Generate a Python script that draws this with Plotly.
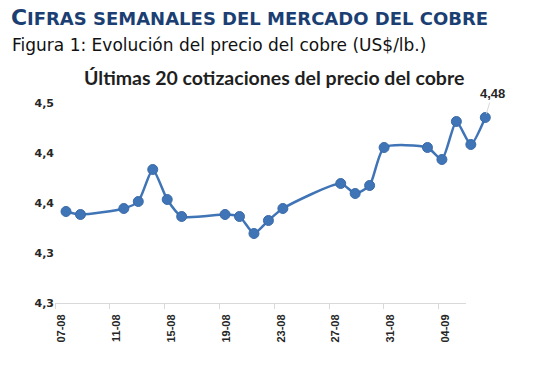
import plotly.graph_objects as go
import pandas as pd

# ---- data ----
dates = ["2025-08-07", "2025-08-08",
         "2025-08-11", "2025-08-12", "2025-08-13", "2025-08-14", "2025-08-15",
         "2025-08-18", "2025-08-19", "2025-08-20", "2025-08-21", "2025-08-22",
         "2025-08-26", "2025-08-27", "2025-08-28", "2025-08-29",
         "2025-09-01", "2025-09-02", "2025-09-03", "2025-09-04", "2025-09-05"]
prices = [4.386, 4.383,
          4.389, 4.396, 4.428, 4.398, 4.381,
          4.383, 4.381, 4.364, 4.377, 4.389,
          4.414, 4.404, 4.412, 4.450,
          4.450, 4.438, 4.476, 4.453, 4.480]
tick_label_dates = ["2025-08-07", "2025-08-11", "2025-08-15", "2025-08-19",
                    "2025-08-23", "2025-08-27", "2025-08-31", "2025-09-04"]
y_min, y_step, y_count = 4.2945, 0.05, 5

header_big = "C"
header_rest = "IFRAS SEMANALES DEL MERCADO DEL COBRE"
subtitle = "Figura 1: Evolución del precio del cobre (US$/lb.)"
chart_title = "Últimas 20 cotizaciones del precio del cobre"

BLUE = "#3f74b6"
GRAY = "#d9d9d9"
HEAD = "#1c3f73"

W, H = 554, 371
L, T = 55, 103
R, B = W - 495, H - 303
plot_w = W - L - R
plot_h = H - T - B

def fx(px):  # screen x -> paper x
    return (px - L) / plot_w

def fy(py):  # screen y -> paper y
    return 1 - (py - T) / plot_h

d0 = pd.Timestamp(dates[0])
d1 = pd.Timestamp(dates[-1])
px_day = (485.3 - 66) / 29
x_rng = [d0 - pd.Timedelta(days=(66 - L) / px_day),
         d1 + pd.Timedelta(days=(W - R - 485.3) / px_day)]
lab_rng = [d0 - pd.Timedelta(hours=12), d1 + pd.Timedelta(hours=12)]
lab_dom = [0, fx(466)]

fig = go.Figure()
# empty traces so the label axes are drawn
fig.add_trace(go.Scatter(x=[], y=[], xaxis="x2", yaxis="y", showlegend=False, hoverinfo="skip"))
fig.add_trace(go.Scatter(x=[], y=[], xaxis="x3", yaxis="y", showlegend=False, hoverinfo="skip"))
fig.add_trace(go.Scatter(
    x=pd.to_datetime(dates), y=prices, mode="lines+markers",
    line=dict(color=BLUE, width=2.5, shape="spline", smoothing=0.6),
    marker=dict(color=BLUE, size=10, line=dict(color="#3a6aa8", width=1)),
    cliponaxis=False, hoverinfo="x+y", showlegend=False))

last_txt = f"{prices[-1]:.2f}".replace(".", ",")
fig.add_annotation(x=pd.Timestamp(dates[-1]), y=prices[-1], text=f"<b>{last_txt}</b>",
                   showarrow=True, arrowhead=0, arrowwidth=1, arrowcolor=GRAY,
                   ax=7, ay=-24, standoff=4,
                   font=dict(family="Liberation Sans, Arial", size=13, color="#262626"))

fig.update_layout(
    width=W, height=H, margin=dict(l=L, r=R, t=T, b=B),
    paper_bgcolor="white", plot_bgcolor="rgba(0,0,0,0)",
    separators=",.",
    xaxis=dict(visible=False, range=x_rng, type="date"),
    xaxis2=dict(anchor="y", domain=lab_dom, type="date", range=lab_rng,
                showline=True, linecolor=GRAY, linewidth=1,
                ticks="outside", ticklen=5, tickcolor=GRAY,
                tick0=lab_rng[0], dtick=4 * 86400000,
                showticklabels=False, showgrid=False, zeroline=False),
    xaxis3=dict(anchor="y", domain=lab_dom, type="date", range=lab_rng,
                tickmode="array", tickvals=pd.to_datetime(tick_label_dates),
                tickformat="%d-%m", tickangle=-90, ticks="outside", ticklen=6,
                tickcolor="rgba(0,0,0,0)",
                tickfont=dict(family="Liberation Sans, Arial", size=11, color="#262626", weight="bold"),
                showline=False, showgrid=False, zeroline=False),
    yaxis=dict(range=[y_min, y_min + y_step * (y_count - 1)], tick0=y_min, dtick=y_step,
               tickformat=".1f", showgrid=False, zeroline=False, showline=False,
               ticks="",
               tickfont=dict(family="DejaVu Sans, Verdana", size=11, color="#262626", weight="bold")),
)

fig.add_annotation(xref="paper", yref="paper", x=fx(274), y=fy(77),
                   xanchor="center", yanchor="middle", showarrow=False,
                   text=f"<b>{chart_title}</b>",
                   font=dict(family="Lato, Open Sans", size=19.5, color="#1f1f1f"))
# header in small caps: large initial + smaller rest, sharing a baseline
fig.add_annotation(xref="paper", yref="paper", x=fx(9), y=fy(32.2),
                   xanchor="left", yanchor="bottom", showarrow=False,
                   text=f"<b>{header_big}</b>",
                   font=dict(family="DejaVu Sans, Verdana", size=22, color=HEAD))
fig.add_annotation(xref="paper", yref="paper", x=fx(24.5), y=fy(31.3),
                   xanchor="left", yanchor="bottom", showarrow=False,
                   text=f"<b>{header_rest}</b>",
                   font=dict(family="DejaVu Sans, Verdana", size=18, color=HEAD))
fig.add_annotation(xref="paper", yref="paper", x=fx(10), y=fy(45),
                   xanchor="left", yanchor="middle", showarrow=False,
                   text=subtitle,
                   font=dict(family="DejaVu Sans, Verdana", size=17, color="#111111"))

fig.write_html("out.html", config={"displayModeBar": False},
               post_script="document.body.style.margin='0';")
